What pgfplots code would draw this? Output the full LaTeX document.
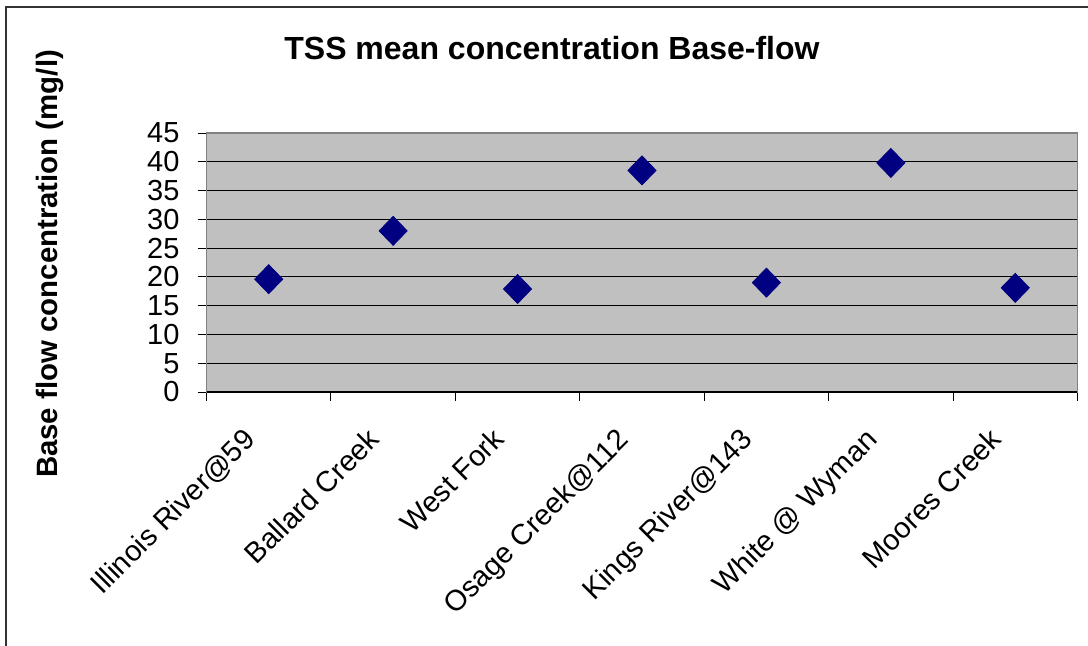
\documentclass[border=0pt]{standalone}
\usepackage{pgfplots}
\pgfplotsset{compat=1.18}
\usepackage{fontspec}
\setmainfont{Liberation Sans}
\definecolor{plotgray}{RGB}{192,192,192}
\definecolor{navyc}{RGB}{0,0,128}
\definecolor{edgegray}{RGB}{128,128,128}
\begin{document}
\begin{tikzpicture}
\draw[draw=black!80, line width=0.6pt] (3pt,319pt) rectangle (600pt,-20pt);
\begin{axis}[
  at={(103.25pt,126.5pt)}, anchor=south west,
  scale only axis, width=435.5pt, height=129.5pt,
  xmin=-0.5, xmax=6.5, ymin=0, ymax=45,
  axis background/.style={fill=plotgray},
  axis line style={draw=edgegray, line width=0.8pt},
  xtick={0,...,6},
  xticklabels={Illinois River@59, Ballard Creek, West Fork, Osage Creek@112, Kings River@143, White @ Wyman, Moores Creek},
  minor xtick={-0.5,0.5,...,6.5},
  ytick={0,5,...,45},
  xtick pos=bottom, ytick pos=left,
  tick align=outside,
  major tick length=4.5pt, minor tick length=4.5pt,
  xtick style={draw=none},
  minor x tick style={draw=black, line width=0.5pt},
  ytick style={draw=black, line width=0.5pt},
  ymajorgrids, grid style={draw=black, line width=0.55pt},
  /pgf/number format/assume math mode=true,
  yticklabel style={font=\fontsize{14.5}{17}\selectfont, xshift=-5.5pt},
  xticklabel style={font=\fontsize{14.5}{17}\selectfont, rotate=45, anchor=north east, xshift=-15pt, yshift=4pt},
  clip=false,
]
\addplot[only marks, mark=diamond*, mark size=7.25pt, mark options={xscale=1.29, fill=navyc, draw=navyc}]
  coordinates {(0,19.6) (1,28.0) (2,17.9) (3,38.5) (4,19.0) (5,39.8) (6,18.1)};
\draw[black, line width=0.8pt] (rel axis cs:0,0) -- (rel axis cs:1,0);
\end{axis}
\node[font=\bfseries\fontsize{16}{19}\selectfont] at (276pt,298.5pt) {TSS mean concentration Base-flow};
\node[font=\bfseries\fontsize{14.7}{17}\selectfont, rotate=90] at (25pt,190.5pt) {Base flow concentration (mg/l)};
\pgfresetboundingbox
\useasboundingbox (0,0) rectangle (544pt,322.5pt);
\end{tikzpicture}
\end{document}
